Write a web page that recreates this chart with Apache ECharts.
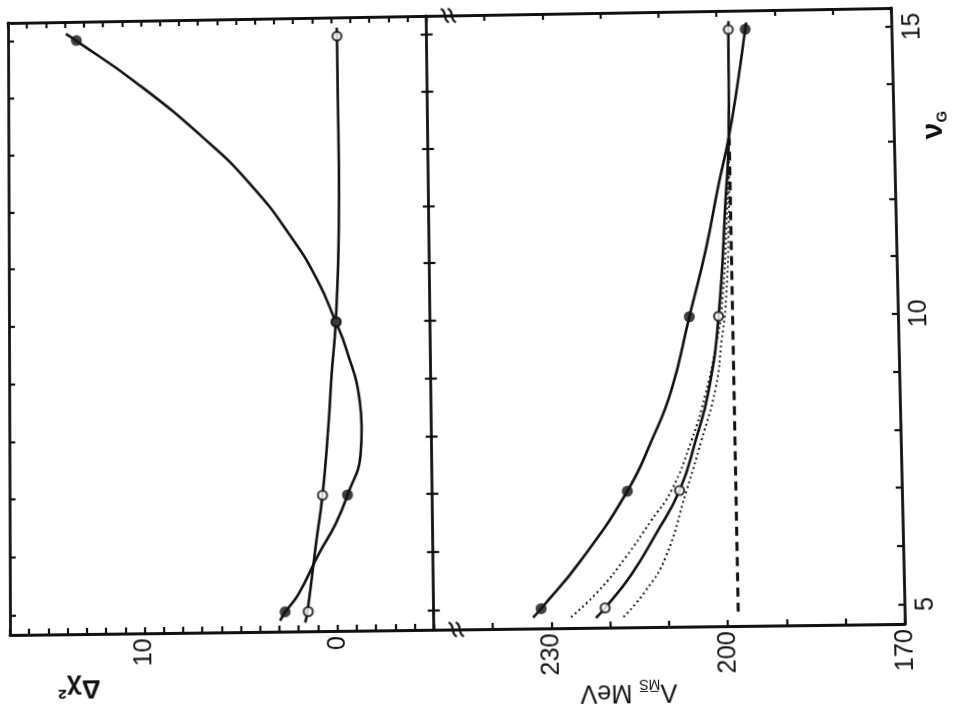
<!DOCTYPE html>
<html>
<head>
<meta charset="utf-8">
<script src="https://cdn.jsdelivr.net/npm/echarts@6/dist/echarts.min.js"></script>
<style>
  html, body { margin: 0; padding: 0; background: #fff; }
  #chart { position: absolute; left: 0; top: 0; width: 953px; height: 716px; transform-origin: 0 0; }
</style>
</head>
<body>
<div id="chart"></div>
<script>
// ν_G values at which the fits were made (markers)
const nuPoints = [5, 7, 10, 15];

// Δχ² of the two fits (filled = •, open = ○)
const chi2Filled = [2.7, -0.6, -0.1, 13.4];
const chi2Open = [1.5, 0.7, -0.1, -0.3];

// Λ_MS (MeV) of the two fits
const lambdaFilled = [231.7, 216.7, 205.6, 195.1];
const lambdaOpen = [220.8, 207.8, 200.6, 198.0];

// hand-drawn curves through the points, sampled along ν_G
const chi2FilledCurveNu = [4.85, 5.0, 5.3, 5.98, 6.5, 7.0, 7.7, 8.17, 8.64, 9.56, 10.0, 10.73, 11.49, 12.42, 13.25, 14.25, 15.0, 15.12];
const chi2FilledCurve   = [2.96, 2.69, 2.0, 0.94, 0.04, -0.6, -1.30, -1.37, -1.28, -0.58, -0.08, 0.85, 2.2, 4.3, 6.75, 10.3, 13.42, 13.95];

const chi2OpenCurveNu = [4.81, 5.0, 6.22, 7.0, 8.23, 9.10, 10.0, 11.6, 12.74, 13.9, 15.0, 15.15];
const chi2OpenCurve   = [1.66, 1.54, 1.04, 0.70, 0.35, 0.16, -0.08, -0.29, -0.33, -0.31, -0.30, -0.29];

const lambdaFilledCurveNu = [4.85, 5.0, 5.82, 7.0, 7.87, 8.73, 10.0, 11.15, 12.28, 13.1, 14.1, 15.0, 15.12];
const lambdaFilledCurve   = [233.1, 231.7, 224.8, 216.7, 212.4, 208.9, 205.6, 202.6, 200.2, 198.3, 196.5, 195.1, 194.9];

const lambdaOpenCurveNu = [4.83, 5.0, 5.56, 6.25, 7.0, 7.86, 8.73, 10.0, 12.06, 13.1, 15.0, 15.15];
const lambdaOpenCurve   = [222.4, 220.8, 216.3, 212.0, 207.8, 204.9, 202.5, 200.6, 199.0, 198.3, 198.0, 197.95];

// dotted band around the open-point curve
const lambdaBandUpperNu = [4.85, 5.29, 5.86, 6.49, 7.0, 7.86, 8.65, 9.46, 10.14, 11.5, 13.1];
const lambdaBandUpper   = [226.6, 221.9, 217.2, 212.7, 209.2, 205.6, 203.1, 201.2, 200.05, 199.0, 198.3];
const lambdaBandLowerNu = [4.84, 5.28, 5.85, 7.0, 7.86, 8.77, 9.58, 10.14, 11.5, 13.1];
const lambdaBandLower   = [217.7, 213.9, 210.4, 206.6, 203.9, 201.3, 200.15, 199.4, 198.6, 198.3];

// dashed ν_G-independent value
const lambdaFixedNu = [4.91, 13.1];
const lambdaFixed   = [198.2, 198.2];

// axes
const nuTicks = [5, 6, 7, 8, 9, 10, 11, 12, 13, 14, 15];
const nuTickLabels = [5, 10, 15];
const chi2TickLabels = [0, 10];
const lambdaTickLabels = [170, 200, 230];
const NU_MIN = 4.662, NU_MAX = 15.331;
const CHI2_MIN = -5, CHI2_MAX = 17;
const LAMBDA_MIN = 170, LAMBDA_MAX = 250, LAMBDA_BREAK = 246.2;

// ---- layout ----
const INK = '#111';
const FONT = '"Liberation Sans", Arial, sans-serif';
const FRAME = { left: 9, top: 15, right: 898, bottom: 631 };
const SPLIT = FRAME.left + 0.4755 * (FRAME.right - FRAME.left);   // panel divider
const PLOT_H = FRAME.bottom - FRAME.top;

// The printed sheet is slightly skewed: warp the flat frame onto its four corners.
const CORNERS = [[8, 23], [891, 8], [905, 624], [10, 635]];

function solve(A, b) {
  const n = b.length;
  for (let i = 0; i < n; i++) {
    let p = i;
    for (let r = i + 1; r < n; r++) if (Math.abs(A[r][i]) > Math.abs(A[p][i])) p = r;
    [A[i], A[p]] = [A[p], A[i]];
    [b[i], b[p]] = [b[p], b[i]];
    for (let r = i + 1; r < n; r++) {
      const f = A[r][i] / A[i][i];
      for (let c = i; c < n; c++) A[r][c] -= f * A[i][c];
      b[r] -= f * b[i];
    }
  }
  const x = new Array(n);
  for (let i = n - 1; i >= 0; i--) {
    let s = b[i];
    for (let c = i + 1; c < n; c++) s -= A[i][c] * x[c];
    x[i] = s / A[i][i];
  }
  return x;
}

function homographyCss(src, dst) {
  const A = [], b = [];
  for (let i = 0; i < 4; i++) {
    const [x, y] = src[i], [u, v] = dst[i];
    A.push([x, y, 1, 0, 0, 0, -u * x, -u * y]); b.push(u);
    A.push([0, 0, 0, x, y, 1, -v * x, -v * y]); b.push(v);
  }
  const [a, bb, c, d, e, f, g, h] = solve(A, b);
  return `matrix3d(${a},${d},0,${g},${bb},${e},0,${h},0,0,1,0,${c},${f},0,1)`;
}

const el = document.getElementById('chart');
el.style.transform = homographyCss(
  [[FRAME.left, FRAME.top], [FRAME.right, FRAME.top], [FRAME.right, FRAME.bottom], [FRAME.left, FRAME.bottom]],
  CORNERS
);

const chart = echarts.init(el, null, { renderer: 'canvas' });

const pairs = (xs, ys) => xs.map((x, i) => [x, ys[i]]);
const labelFont = { color: INK, fontSize: 25, fontFamily: FONT };
const frameLine = { show: true, onZero: false, lineStyle: { color: INK, width: 2.8 } };
const tick = (len) => ({ show: true, inside: true, length: len, lineStyle: { color: INK, width: 2.2 } });

function valueX(grid, pos, min, max, interval, labels) {
  return {
    type: 'value', gridIndex: grid, position: pos, min, max, interval, inverse: true,
    axisLine: frameLine, axisTick: tick(6), splitLine: { show: false },
    axisLabel: labels ? Object.assign({
      show: true, rotate: 90, margin: 5, showMinLabel: true, showMaxLabel: true,
      formatter: v => labels.includes(Math.round(v)) && Math.abs(v - Math.round(v)) < 1e-6 ? String(Math.round(v)) : ''
    }, labelFont) : { show: false }
  };
}

function nuAxis(grid, pos, opts) {
  return Object.assign({
    type: 'value', gridIndex: grid, position: pos, min: NU_MIN, max: NU_MAX,
    axisLine: frameLine, axisTick: Object.assign(tick(6), { customValues: nuTicks }),
    axisLabel: { show: false }, splitLine: { show: false }
  }, opts || {});
}

const curve = (name, x, y, xs, ys, style) => ({
  name, type: 'line', xAxisIndex: x, yAxisIndex: y, data: pairs(xs, ys),
  smooth: 0.5, showSymbol: false, symbol: 'none', z: 3,
  lineStyle: Object.assign({ color: INK, width: 2.6 }, style || {})
});

// filled markers sit on top where the two fits coincide
const filledDots = (x, y, vals) => ({
  type: 'scatter', xAxisIndex: x, yAxisIndex: y, data: pairs(vals, nuPoints),
  symbol: 'circle', symbolSize: 11, z: 7, itemStyle: { color: INK }
});
const openDots = (x, y, vals) => ({
  type: 'scatter', xAxisIndex: x, yAxisIndex: y, data: pairs(vals, nuPoints),
  symbol: 'circle', symbolSize: 9, z: 6, itemStyle: { color: '#fff', borderColor: INK, borderWidth: 2.2 }
});

const option = {
  backgroundColor: '#fff',
  animation: false,
  grid: [
    { left: FRAME.left, top: FRAME.top, width: SPLIT - FRAME.left, height: PLOT_H, containLabel: false, outerBoundsMode: 'none' },
    { left: SPLIT, top: FRAME.top, width: FRAME.right - SPLIT, height: PLOT_H, containLabel: false, outerBoundsMode: 'none' }
  ],
  xAxis: [
    valueX(0, 'bottom', CHI2_MIN, CHI2_MAX, 1, chi2TickLabels),
    valueX(1, 'bottom', LAMBDA_MIN, LAMBDA_MAX, 10, lambdaTickLabels),
    valueX(0, 'top', CHI2_MIN, CHI2_MAX, 1, null),
    valueX(1, 'top', LAMBDA_MIN, LAMBDA_MAX, 10, null)
  ],
  yAxis: [
    nuAxis(0, 'left'),
    nuAxis(0, 'right'),
    nuAxis(1, 'left', { axisLine: { show: false, onZero: false } }),
    nuAxis(1, 'right', {
      axisLabel: Object.assign({ show: true, rotate: 90, margin: 9, customValues: nuTickLabels,
        formatter: v => String(Math.round(v)) }, labelFont)
    })
  ],
  series: [
    curve('Δχ² •', 0, 0, chi2FilledCurve, chi2FilledCurveNu),
    curve('Δχ² ○', 0, 0, chi2OpenCurve, chi2OpenCurveNu),
    openDots(0, 0, chi2Open),
    filledDots(0, 0, chi2Filled),

    curve('Λ •', 1, 3, lambdaFilledCurve, lambdaFilledCurveNu),
    curve('Λ ○', 1, 3, lambdaOpenCurve, lambdaOpenCurveNu),
    curve('band +', 1, 3, lambdaBandUpper, lambdaBandUpperNu, { width: 2, type: [1.8, 3.2] }),
    curve('band −', 1, 3, lambdaBandLower, lambdaBandLowerNu, { width: 2, type: [1.8, 3.2] }),
    curve('fixed', 1, 3, lambdaFixed, lambdaFixedNu, { width: 3, type: [9, 6] }),
    openDots(1, 3, lambdaOpen),
    filledDots(1, 3, lambdaFilled)
  ]
};
chart.setOption(option);

// axis titles and the scale-break marks
const bx = chart.convertToPixel({ xAxisIndex: 1 }, LAMBDA_BREAK);
const breakMark = (id, y) => ({
  type: 'group', id, x: bx, y,
  children: [-3.5, 3.5].map(dx => ({
    type: 'bezierCurve',
    shape: { x1: dx - 4, y1: -7, cpx1: dx + 3, cpy1: -4, cpx2: dx - 3, cpy2: 4, x2: dx + 4, y2: 7 },
    style: { stroke: INK, lineWidth: 2.2, fill: null }
  }))
});

chart.setOption({
  graphic: [
    {
      type: 'text', id: 'chiTitle', x: 78, y: 684, rotation: Math.PI,
      style: { text: 'Δχ²', fill: INK, font: `bold 26px ${FONT}`, align: 'center', verticalAlign: 'middle' }
    },
    {
      type: 'text', id: 'lambdaTitle', x: 624, y: 695, rotation: Math.PI,
      style: {
        text: '{l|Λ}{m|M\u0305S\u0305}{l| MeV}', align: 'center', verticalAlign: 'middle',
        rich: {
          l: { fill: INK, fontSize: 25, fontFamily: FONT, lineHeight: 30, verticalAlign: 'middle' },
          m: { fill: INK, fontSize: 14, fontFamily: FONT, lineHeight: 14, verticalAlign: 'bottom' }
        }
      }
    },
    {
      type: 'text', id: 'nuTitle', x: 938, y: 134, rotation: Math.PI / 2,
      style: {
        text: '{n|ν}{g|G}', align: 'center', verticalAlign: 'middle',
        rich: {
          n: { fill: INK, fontSize: 30, fontFamily: FONT, fontWeight: 'bold', lineHeight: 32, verticalAlign: 'middle' },
          g: { fill: INK, fontSize: 15, fontFamily: FONT, fontWeight: 'bold', lineHeight: 15, verticalAlign: 'bottom' }
        }
      }
    },
    breakMark('breakTop', FRAME.top),
    breakMark('breakBottom', FRAME.bottom)
  ]
});
</script>
</body>
</html>
